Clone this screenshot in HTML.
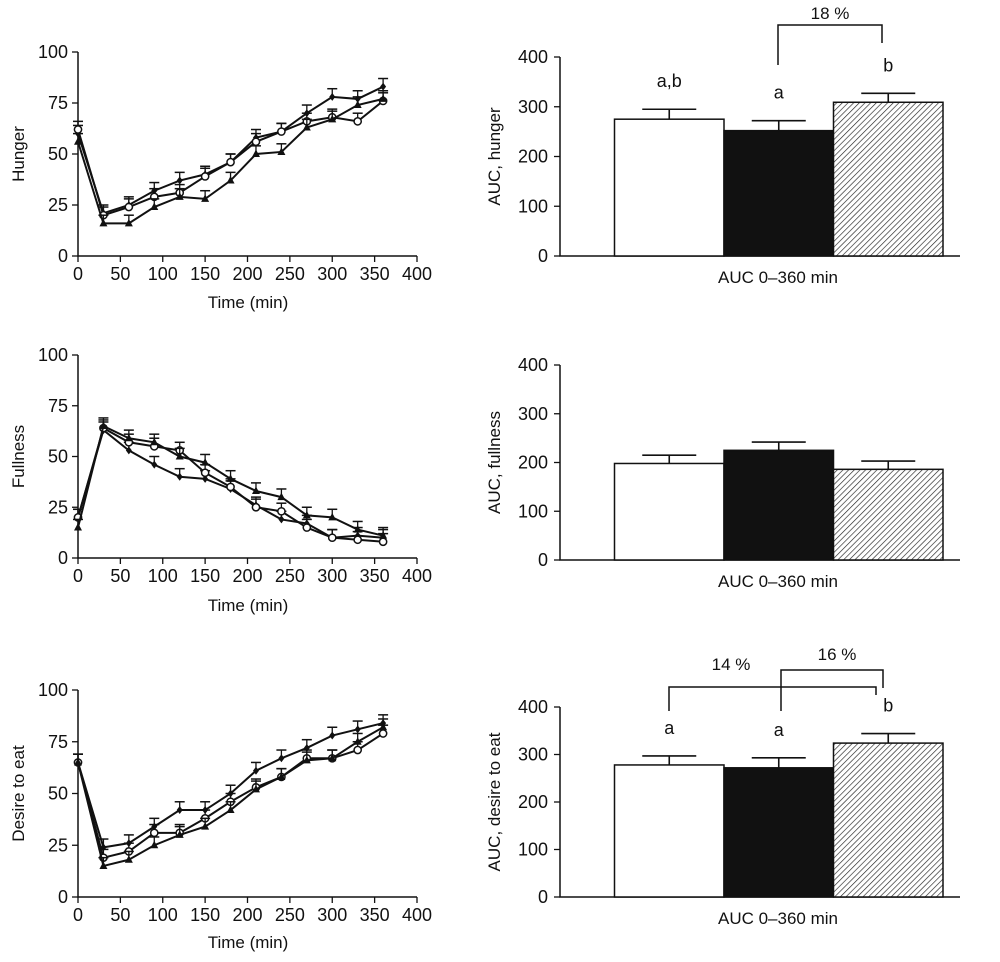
<!DOCTYPE html>
<html><head><meta charset="utf-8"><style>
html,body{margin:0;padding:0;background:#fff}
svg text{font-family:"Liberation Sans",sans-serif;fill:#111}
</style></head><body>
<svg id="c" width="1000" height="957" viewBox="0 0 1000 957" xmlns="http://www.w3.org/2000/svg">
<defs>
<pattern id="hatch" patternUnits="userSpaceOnUse" width="4" height="4" patternTransform="rotate(45)">
<rect width="4" height="4" fill="#fff"/><line x1="0" y1="0" x2="0" y2="4" stroke="#222" stroke-width="1.3"/>
</pattern>
</defs>
</svg>
<script>
const times=[0,30,60,90,120,150,180,210,240,270,300,330,360];
const xTicks=[0,50,100,150,200,250,300,350,400];
const yTicksLine=[0,25,50,75,100];
const yTicksBar=[0,100,200,300,400];
const hungerDiamond=[60,21,25,32,37,40,46,58,61,70,78,77,83];
const hungerCircle=[62,20,24,29,31,39,46,56,61,66,68,66,76];
const hungerTriangle=[56,16,16,24,29,28,37,50,51,63,67,74,77];
const fullDiamond=[20,63,53,46,40,39,34,26,19,17,10,11,10];
const fullCircle=[20,64,57,55,53,42,35,25,23,15,10,9,8];
const fullTriangle=[15,65,59,57,50,47,39,33,30,21,20,14,11];
const desireDiamond=[65,24,26,34,42,42,50,61,67,72,78,81,84];
const desireCircle=[65,19,22,31,31,38,46,53,58,67,67,71,79];
const desireTriangle=[65,15,18,25,30,34,42,52,58,66,67,75,82];
const errLine=[4,4,4,4,4,4,4,4,4,4,4,4,4];
const barCats=['control','black','hatched'];
const hungerBars=[275,252,309];
const hungerBarErr=[20,20,18];
const fullBars=[198,225,186];
const fullBarErr=[17,17,17];
const desireBars=[278,272,324];
const desireBarErr=[19,21,20];
const barLetters=[['a,b','a','b'],null,['a','a','b']];

const svg=document.getElementById('c');
const NS='http://www.w3.org/2000/svg';
function mk(tag,attrs,parent){const e=document.createElementNS(NS,tag);for(const k in attrs)e.setAttribute(k,attrs[k]);(parent||svg).appendChild(e);return e;}
function txt(s,attrs,parent){const e=mk('text',attrs,parent);e.textContent=s;return e;}

function linePanel(name,top,bottom,ylabel,series,xlabY){
  const g=mk('g',{});
  
  
  const x0=78,x1=417;
  const X=v=>x0+(x1-x0)*v/400;
  const Y=v=>bottom+(top-bottom)*v/100;
  const ax=mk('path',{d:`M${x0},${top} V${bottom} H${x1}`,fill:'none',stroke:'#111','stroke-width':1.5},g);
  
  
  yTicksLine.forEach(v=>{
    mk('line',{x1:x0-6,x2:x0,y1:Y(v),y2:Y(v),stroke:'#111','stroke-width':1.3},g);
    const t=txt(v,{x:x0-10,y:Y(v)+6,'font-size':18,'text-anchor':'end'},g);
    
    
  });
  xTicks.forEach(v=>{
    mk('line',{x1:X(v),x2:X(v),y1:bottom,y2:bottom+6,stroke:'#111','stroke-width':1.3},g);
    const t=txt(v,{x:X(v),y:bottom+24,'font-size':18,'text-anchor':'middle'},g);
    
    
  });
  const yl=txt(ylabel,{x:0,y:0,'font-size':17,'text-anchor':'middle',transform:`translate(24,${(top+bottom)/2}) rotate(-90)`},g);
  
  
  const xl=txt('Time (min)',{x:248,y:xlabY,'font-size':17,'text-anchor':'middle'},g);
  
  
  series.forEach(([vals,shape])=>{
    const sg=mk('g',{},g);
    
    
    vals.forEach((v,i)=>{
      const x=X(times[i]),y=Y(v),ye=Y(v+errLine[i]);
      mk('line',{x1:x,x2:x,y1:y,y2:ye,stroke:'#111','stroke-width':1.3},sg);
      mk('line',{x1:x-5,x2:x+5,y1:ye,y2:ye,stroke:'#111','stroke-width':1.5},sg);
    });
    const p=mk('polyline',{points:vals.map((v,i)=>X(times[i])+','+Y(v)).join(' '),fill:'none',stroke:'#111','stroke-width':2},sg);
    
    
    vals.forEach((v,i)=>{
      const x=X(times[i]),y=Y(v);let m;
      if(shape==='circle')m=mk('circle',{cx:x,cy:y,r:3.6,fill:'#fff',stroke:'#111','stroke-width':1.5},sg);
      else if(shape==='triangle')m=mk('path',{d:`M${x},${y-4.5} L${x+4},${y+3} L${x-4},${y+3}Z`,fill:'#111'},sg);
      else m=mk('path',{d:`M${x},${y-4} L${x+3},${y} L${x},${y+4} L${x-3},${y}Z`,fill:'#111'},sg);
      
      
    });
  });
}

function barPanel(name,top,bottom,ylabel,vals,errs,letters){
  const g=mk('g',{});
  
  
  const x0=560,x1=960;
  const Y=v=>bottom+(top-bottom)*v/400;
  const ax=mk('path',{d:`M${x0},${top} V${bottom} H${x1}`,fill:'none',stroke:'#111','stroke-width':1.5},g);
  
  
  yTicksBar.forEach(v=>{
    mk('line',{x1:x0-6,x2:x0,y1:Y(v),y2:Y(v),stroke:'#111','stroke-width':1.3},g);
    const t=txt(v,{x:x0-12,y:Y(v)+6,'font-size':18,'text-anchor':'end'},g);
    
    
  });
  const yl=txt(ylabel,{x:0,y:0,'font-size':17,'text-anchor':'middle',transform:`translate(500,${(top+bottom)/2}) rotate(-90)`},g);
  
  
  const xl=txt('AUC 0\u2013360 min',{x:778,y:bottom+27,'font-size':17,'text-anchor':'middle'},g);
  
  
  const fills=['#fff','#111','url(#hatch)'];
  const bw=109.5,bx0=614.5;
  vals.forEach((v,i)=>{
    const bx=bx0+i*bw,cx=bx+bw/2;
    const e=Y(v+errs[i]);
    mk('line',{x1:cx,x2:cx,y1:Y(v),y2:e,stroke:'#111','stroke-width':1.6},g);
    mk('line',{x1:cx-27,x2:cx+27,y1:e,y2:e,stroke:'#111','stroke-width':1.6},g);
    const r=mk('rect',{x:bx,y:Y(v),width:bw,height:bottom-Y(v),fill:fills[i],stroke:'#111','stroke-width':1.5},g);
    
    
    if(letters){
      const t=txt(letters[i],{x:cx,y:e-22,'font-size':18,'text-anchor':'middle'},g);
      
      
    }
  });
  return g;
}

linePanel('hunger',52,256,'Hunger',[[hungerDiamond,'diamond'],[hungerCircle,'circle'],[hungerTriangle,'triangle']],308);
linePanel('fullness',355,558,'Fullness',[[fullDiamond,'diamond'],[fullCircle,'circle'],[fullTriangle,'triangle']],611);
linePanel('desire',690,897,'Desire to eat',[[desireDiamond,'diamond'],[desireCircle,'circle'],[desireTriangle,'triangle']],948);
const g1=barPanel('hunger-auc',57,256,'AUC, hunger',hungerBars,hungerBarErr,barLetters[0]);
barPanel('fullness-auc',365,560,'AUC, fullness',fullBars,fullBarErr,null);
const g3=barPanel('desire-auc',707,897,'AUC, desire to eat',desireBars,desireBarErr,barLetters[2]);

let b=mk('path',{d:'M778,65 V25 H882 V43',fill:'none',stroke:'#111','stroke-width':1.5},g1);


let t=txt('18 %',{x:830,y:19,'font-size':17,'text-anchor':'middle'},g1);


b=mk('path',{d:'M669,711 V687 H876 V695',fill:'none',stroke:'#111','stroke-width':1.5},g3);


b=mk('path',{d:'M781,711 V670 H883 V688',fill:'none',stroke:'#111','stroke-width':1.5},g3);


t=txt('14 %',{x:731,y:670,'font-size':17,'text-anchor':'middle'},g3);


t=txt('16 %',{x:837,y:660,'font-size':17,'text-anchor':'middle'},g3);


</script>
</body></html>
